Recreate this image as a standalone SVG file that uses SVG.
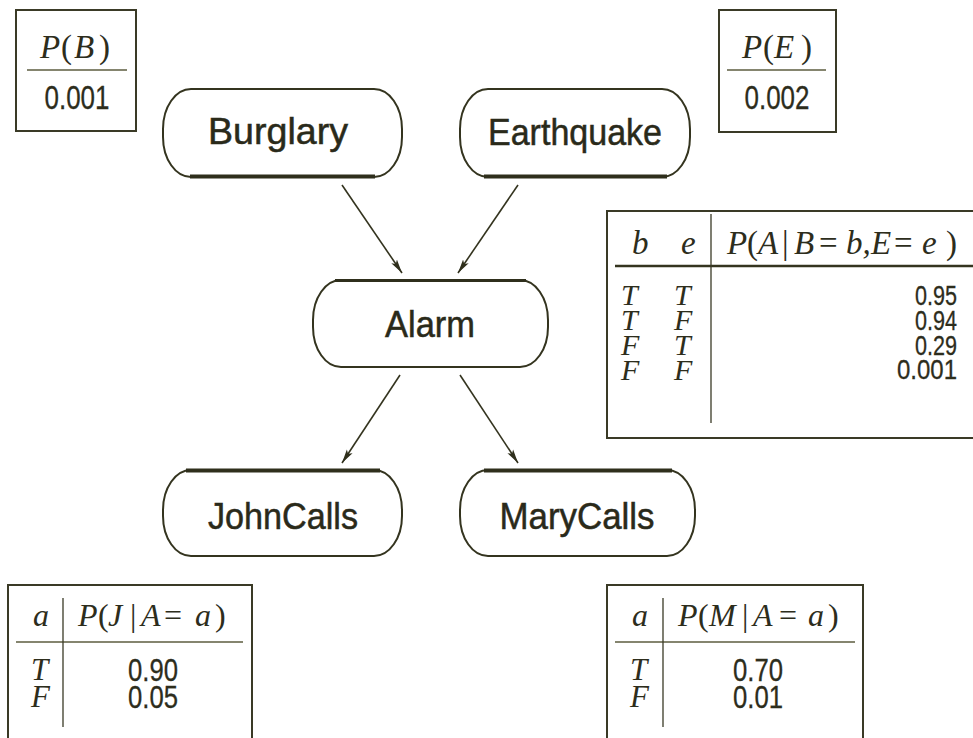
<svg xmlns="http://www.w3.org/2000/svg" width="973" height="738" viewBox="0 0 973 738">
  <style>
    .bg { fill: #ffffff; }
    .node { fill: #ffffff; stroke: #34341f; stroke-width: 2; }
    .edge-thick { stroke: #2f2f1c; stroke-width: 4; fill: none; }
    .label { font-family: "Liberation Sans", Arial, sans-serif; font-size: 36px; fill: #2a2a1a; stroke: #2a2a1a; stroke-width: 0.5; text-anchor: middle; }
    .box { fill: none; stroke: #3a3a26; stroke-width: 2; }
    .rule { stroke: #85856f; stroke-width: 2; }
    .rule-dark { stroke: #34341f; stroke-width: 2.5; }
    .divider { stroke: #3a3a26; stroke-width: 1.3; }
    .math { font-family: "Liberation Serif", "Times New Roman", serif; font-style: italic; fill: #2d2d1c; }
    .op { font-style: normal; }
    .num { font-family: "Liberation Sans", Arial, sans-serif; fill: #2d2d1c; stroke: #2d2d1c; stroke-width: 0.3; }
    .conn line { stroke: #34341f; stroke-width: 1.6; marker-end: url(#arrow); }
  </style>
  <defs>
    <marker id="arrow" viewBox="0 0 14 8" refX="14" refY="4" markerWidth="14" markerHeight="8" markerUnits="userSpaceOnUse" orient="auto">
      <path d="M0,0.6 L14,4 L0,7.4 L3,4 z" fill="#2f2f1c"/>
    </marker>
  </defs>

  <rect class="bg" x="0" y="0" width="973" height="738"/>

  <!-- connectors -->
  <g id="connectors" class="conn">
    <line x1="342" y1="185" x2="402" y2="273"/>
    <line x1="518" y1="185" x2="458" y2="273"/>
    <line x1="400" y1="375" x2="342" y2="463"/>
    <line x1="460" y1="375" x2="518" y2="463"/>
  </g>

  <!-- nodes -->
  <g id="burglary">
    <rect class="node" x="163" y="89" width="239" height="88" rx="28" ry="40"/>
    <line class="edge-thick" x1="190" y1="176.5" x2="375" y2="176.5"/>
    <text class="label" x="278" y="144" textLength="140" lengthAdjust="spacingAndGlyphs">Burglary</text>
  </g>

  <g id="earthquake">
    <rect class="node" x="460" y="89" width="230" height="88" rx="28" ry="40"/>
    <line class="edge-thick" x1="484" y1="176.5" x2="667" y2="176.5"/>
    <text class="label" x="575" y="145" textLength="174" lengthAdjust="spacingAndGlyphs">Earthquake</text>
  </g>

  <g id="alarm">
    <rect class="node" x="313" y="280" width="235" height="87" rx="28" ry="40"/>
    <line class="edge-thick" x1="335" y1="280.5" x2="526" y2="280.5" style="stroke-width:3"/>
    <text class="label" x="430" y="337" textLength="90" lengthAdjust="spacingAndGlyphs">Alarm</text>
  </g>

  <g id="johncalls">
    <rect class="node" x="163" y="470" width="239" height="86" rx="28" ry="40"/>
    <line class="edge-thick" x1="186" y1="470.5" x2="380" y2="470.5"/>
    <text class="label" x="283" y="529" textLength="150" lengthAdjust="spacingAndGlyphs">JohnCalls</text>
  </g>

  <g id="marycalls">
    <rect class="node" x="460" y="470" width="235" height="86" rx="28" ry="40"/>
    <line class="edge-thick" x1="484" y1="470.5" x2="672" y2="470.5"/>
    <text class="label" x="577" y="529" textLength="155" lengthAdjust="spacingAndGlyphs">MaryCalls</text>
  </g>

  <!-- prior table for Burglary -->
  <g id="cpt-b">
    <rect class="box" x="16" y="10" width="120" height="121"/>
    <line class="rule" x1="27" y1="70" x2="127" y2="70"/>
    <text class="math" y="58" font-size="33"><tspan x="40">P</tspan><tspan x="61" class="op">(</tspan><tspan x="74">B</tspan><tspan x="99" class="op">)</tspan></text>
    <text class="num" x="77" y="109" font-size="33" text-anchor="middle" textLength="65" lengthAdjust="spacingAndGlyphs">0.001</text>
  </g>

  <!-- prior table for Earthquake -->
  <g id="cpt-e">
    <rect class="box" x="719" y="10" width="117" height="122"/>
    <line class="rule" x1="727" y1="70" x2="826" y2="70"/>
    <text class="math" y="58" font-size="33"><tspan x="742">P</tspan><tspan x="763" class="op">(</tspan><tspan x="774">E</tspan><tspan x="801" class="op">)</tspan></text>
    <text class="num" x="777" y="109" font-size="33" text-anchor="middle" textLength="65" lengthAdjust="spacingAndGlyphs">0.002</text>
  </g>

  <!-- conditional table for Alarm -->
  <g id="cpt-a">
    <rect class="box" x="607" y="211" width="370" height="227"/>
    <line class="rule-dark" x1="615" y1="266" x2="975" y2="266"/>
    <line class="divider" x1="711" y1="214" x2="711" y2="423"/>
    <text class="math" y="254" font-size="33"><tspan x="632">b</tspan><tspan x="681">e</tspan></text>
    <text class="math" y="254" font-size="33"><tspan x="727">P</tspan><tspan x="747" class="op">(</tspan><tspan x="758">A</tspan><tspan x="782" class="op">|</tspan><tspan x="794">B</tspan><tspan x="819" class="op">=</tspan><tspan x="846">b,</tspan><tspan x="871">E</tspan><tspan x="894" class="op">=</tspan><tspan x="922">e</tspan><tspan x="946" class="op">)</tspan></text>
    <text class="math" font-size="30">
      <tspan x="621" y="305">T</tspan><tspan x="674" y="305">T</tspan>
      <tspan x="621" y="330">T</tspan><tspan x="674" y="330">F</tspan>
      <tspan x="621" y="355">F</tspan><tspan x="674" y="355">T</tspan>
      <tspan x="621" y="380">F</tspan><tspan x="674" y="380">F</tspan>
    </text>
    <g class="num" font-size="28" text-anchor="end">
      <text x="957" y="305" textLength="42" lengthAdjust="spacingAndGlyphs">0.95</text>
      <text x="957" y="330" textLength="42" lengthAdjust="spacingAndGlyphs">0.94</text>
      <text x="957" y="355" textLength="42" lengthAdjust="spacingAndGlyphs">0.29</text>
      <text x="957" y="379" textLength="60" lengthAdjust="spacingAndGlyphs">0.001</text>
    </g>
  </g>

  <!-- conditional table for JohnCalls -->
  <g id="cpt-j">
    <rect class="box" x="8" y="585" width="244" height="160"/>
    <line class="rule" x1="16" y1="642" x2="243" y2="642"/>
    <line class="divider" x1="63" y1="598" x2="63" y2="727"/>
    <text class="math" x="33" y="626" font-size="32">a</text>
    <text class="math" y="626" font-size="32"><tspan x="78">P</tspan><tspan x="98" class="op">(</tspan><tspan x="108">J</tspan><tspan x="130" class="op">|</tspan><tspan x="141">A</tspan><tspan x="164" class="op">=</tspan><tspan x="195">a</tspan><tspan x="215" class="op">)</tspan></text>
    <text class="math" font-size="31"><tspan x="31" y="680">T</tspan><tspan x="31" y="707">F</tspan></text>
    <g class="num" font-size="31" text-anchor="middle">
      <text x="153" y="681" textLength="50" lengthAdjust="spacingAndGlyphs">0.90</text>
      <text x="153" y="708" textLength="50" lengthAdjust="spacingAndGlyphs">0.05</text>
    </g>
  </g>

  <!-- conditional table for MaryCalls -->
  <g id="cpt-m">
    <rect class="box" x="607" y="585" width="256" height="160"/>
    <line class="rule" x1="615" y1="642" x2="855" y2="642"/>
    <line class="divider" x1="663" y1="598" x2="663" y2="727"/>
    <text class="math" x="632" y="626" font-size="32">a</text>
    <text class="math" y="626" font-size="32"><tspan x="678">P</tspan><tspan x="698" class="op">(</tspan><tspan x="709">M</tspan><tspan x="742" class="op">|</tspan><tspan x="753">A</tspan><tspan x="779" class="op">=</tspan><tspan x="808">a</tspan><tspan x="828" class="op">)</tspan></text>
    <text class="math" font-size="31"><tspan x="630" y="680">T</tspan><tspan x="630" y="707">F</tspan></text>
    <g class="num" font-size="31" text-anchor="middle">
      <text x="758" y="681" textLength="50" lengthAdjust="spacingAndGlyphs">0.70</text>
      <text x="758" y="708" textLength="50" lengthAdjust="spacingAndGlyphs">0.01</text>
    </g>
  </g>
</svg>
